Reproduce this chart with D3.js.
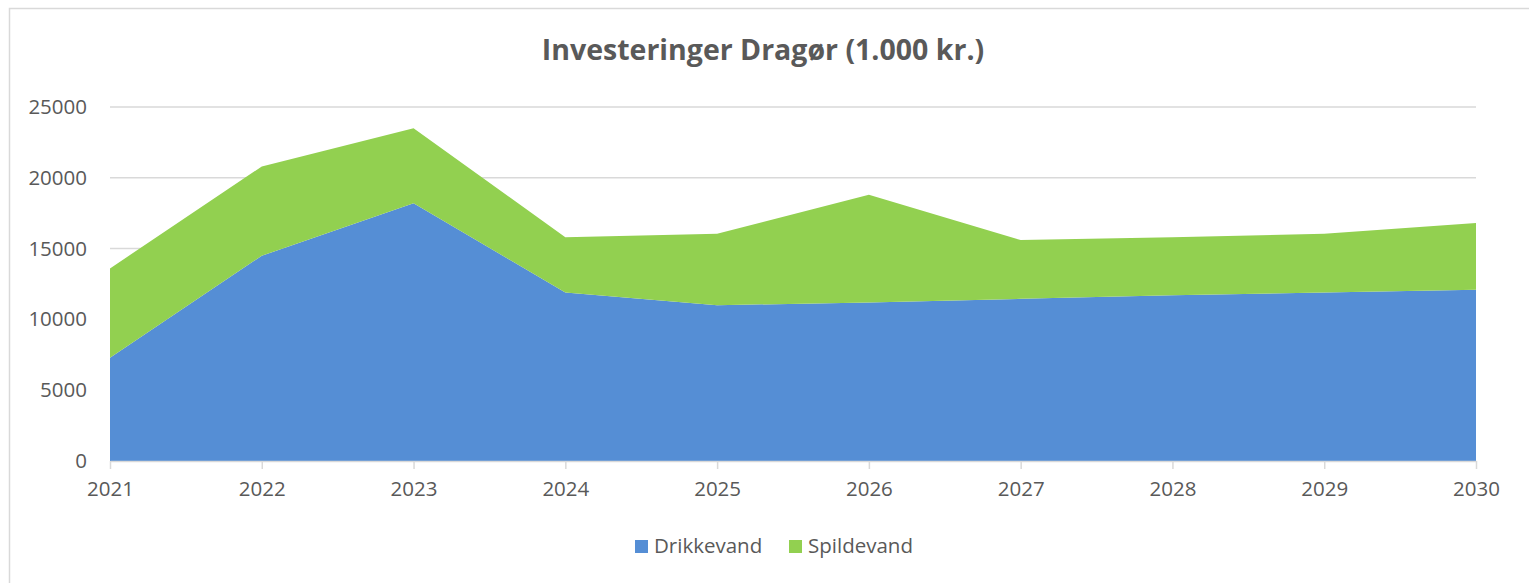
<!DOCTYPE html>
<html>
<head>
<meta charset="utf-8">
<script src="https://cdn.jsdelivr.net/npm/d3@7"></script>
<style>
  body { margin: 0; background: #fff; overflow: hidden; }
  text { font-family: "Open Sans", sans-serif; fill: #595959; }
</style>
</head>
<body>
<div id="chart"></div>
<script>
// Data (1.000 kr.)
const years = ["2021", "2022", "2023", "2024", "2025", "2026", "2027", "2028", "2029", "2030"];
const drikkevand = [7300, 14500, 18200, 11900, 11000, 11200, 11450, 11700, 11900, 12100];
const spildevand = [6300, 6300, 5300, 3900, 5050, 7600, 4150, 4100, 4150, 4700];
const seriesNames = ["Drikkevand", "Spildevand"];
const yTicks = [0, 5000, 10000, 15000, 20000, 25000];
const title = "Investeringer Dragør (1.000 kr.)";

const W = 1529, H = 583;
const margin = { top: 107, right: 53, bottom: 122, left: 110 };
const width = W - margin.left - margin.right,
      height = H - margin.top - margin.bottom;

const color = d3.scaleOrdinal().domain(seriesNames).range(["#558ed5", "#92d050"]);

const root = d3.select("#chart").append("svg")
    .attr("width", W)
    .attr("height", H)
    .style("display", "block");

// chart frame (only top and left edges fall inside the picture)
root.append("path")
    .attr("d", `M9.5,${H}V8.5H${W}`)
    .attr("fill", "none")
    .attr("stroke", "#d9d9d9")
    .attr("stroke-width", 1.5);

root.append("text")
    .attr("x", 763)
    .attr("y", 60)
    .attr("text-anchor", "middle")
    .style("font-size", "28.5px")
    .style("font-weight", "bold")
    .text(title);

const svg = root.append("g").attr("transform", `translate(${margin.left},${margin.top})`);

const x = d3.scalePoint().domain(years).range([0, width]);
const y = d3.scaleLinear().domain([0, 25000]).range([height, 0]);

// gridlines
svg.append("g")
  .selectAll("line")
  .data(yTicks.slice(1))
  .join("line")
    .attr("x1", 0).attr("x2", width)
    .attr("y1", d => y(d)).attr("y2", d => y(d))
    .attr("stroke", "#d9d9d9")
    .attr("stroke-width", 1.5);

// stacked areas
const table = years.map((yr, i) => ({ year: yr, Drikkevand: drikkevand[i], Spildevand: spildevand[i] }));
const stacked = d3.stack().keys(seriesNames)(table);

const area = d3.area()
    .x(d => x(d.data.year))
    .y0(d => y(d[0]))
    .y1(d => y(d[1]));

svg.selectAll(".area")
  .data(stacked)
  .join("path")
    .attr("class", "area")
    .attr("fill", d => color(d.key))
    .attr("d", area);

// y axis labels
const yAxis = svg.append("g")
    .call(d3.axisLeft(y).tickValues(yTicks).tickSize(0).tickPadding(23).tickFormat(d3.format("d")));
yAxis.select(".domain").remove();
yAxis.selectAll("text").style("font-size", "20.5px").attr("fill", "#595959");

// x axis
const xAxis = svg.append("g")
    .attr("transform", `translate(0,${height})`)
    .call(d3.axisBottom(x).tickSize(8).tickPadding(12).tickSizeOuter(0));
xAxis.select(".domain").attr("stroke", "#d9d9d9").attr("stroke-width", 1.5);
xAxis.selectAll(".tick line").attr("stroke", "#d9d9d9").attr("stroke-width", 1.5);
xAxis.selectAll("text").style("font-size", "20.5px").attr("fill", "#595959");

// legend
const legendX = [635, 789];
const legend = root.append("g")
  .selectAll("g")
  .data(seriesNames)
  .join("g")
    .attr("transform", (d, i) => `translate(${legendX[i]},540)`);
legend.append("rect")
    .attr("width", 13).attr("height", 13)
    .attr("fill", d => color(d));
legend.append("text")
    .attr("x", 19)
    .attr("y", 13)
    .style("font-size", "20.5px")
    .text(d => d);
</script>
</body>
</html>
